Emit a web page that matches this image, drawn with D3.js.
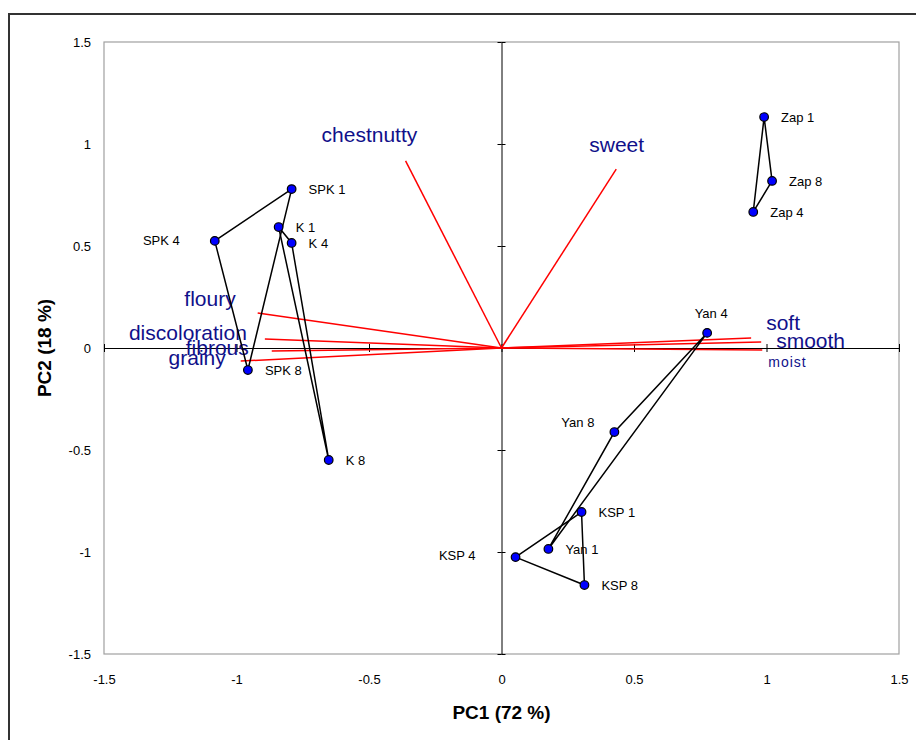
<!DOCTYPE html>
<html>
<head>
<meta charset="utf-8">
<script src="https://cdn.jsdelivr.net/npm/d3@7"></script>
<style>
  html, body { margin: 0; padding: 0; background: #fff; }
  svg { display: block; }
</style>
</head>
<body>
<svg id="chart" width="916" height="740"></svg>
<script>
// ---------- DATA ----------
const sampleNames = ["Zap 1","Zap 8","Zap 4","Yan 4","Yan 8","Yan 1","KSP 1","KSP 4","KSP 8","SPK 1","SPK 4","SPK 8","K 1","K 4","K 8"];
const samplePC1   = [0.991, 1.021, 0.950, 0.776, 0.426, 0.177, 0.302, 0.053, 0.313, -0.792, -1.082, -0.957, -0.841, -0.792, -0.652];
const samplePC2   = [1.132, 0.819, 0.667, 0.074, -0.412, -0.985, -0.804, -1.025, -1.162, 0.779, 0.525, -0.108, 0.593, 0.515, -0.549];

// polygons joining samples of the same cultivar
const groups = [
  ["Zap 1","Zap 8","Zap 4"],
  ["Yan 4","Yan 8","Yan 1"],
  ["KSP 1","KSP 4","KSP 8"],
  ["SPK 1","SPK 4","SPK 8"],
  ["K 1","K 4","K 8"]
];

const attrNames = ["chestnutty","sweet","floury","discoloration","fibrous","grainy","soft","smooth","moist"];
const attrPC1   = [-0.362, 0.433, -0.920, -0.893, -0.867, -0.984, 0.942, 0.980, 0.984];
const attrPC2   = [0.917, 0.877, 0.172, 0.044, -0.015, -0.064, 0.049, 0.029, -0.010];

const tickValues = [-1.5, -1, -0.5, 0, 0.5, 1, 1.5];
const xTitle = "PC1 (72 %)";
const yTitle = "PC2 (18 %)";

// ---------- LAYOUT ----------
const svg = d3.select("#chart");
const plot = { left: 104, right: 899, top: 42, bottom: 654 };
const x = d3.scaleLinear().domain([-1.5, 1.5]).range([plot.left, plot.right]);
const y = d3.scaleLinear().domain([-1.5, 1.5]).range([plot.bottom, plot.top]);
const tickFont = "'Liberation Sans Narrow', 'Liberation Sans', Arial, sans-serif";
const font = "'Liberation Sans', Arial, sans-serif";

// outer frame (only top and left visible)
svg.append("path")
  .attr("d", "M9,740 L9,14 L916,14")
  .attr("fill", "none").attr("stroke", "#333").attr("stroke-width", 2);

// plot area border
svg.append("rect")
  .attr("x", plot.left).attr("y", plot.top)
  .attr("width", plot.right - plot.left).attr("height", plot.bottom - plot.top)
  .attr("fill", "none").attr("stroke", "#a0a0a0").attr("stroke-width", 1.2);

// tick labels via axes (plain hyphen minus, as in the original)
const fmt = d => String(d);
const xAxisLbl = svg.append("g").attr("transform", `translate(0,${plot.bottom})`)
  .call(d3.axisBottom(x).tickValues(tickValues).tickSize(0).tickPadding(21).tickFormat(fmt));
const yAxisLbl = svg.append("g").attr("transform", `translate(${plot.left},0)`)
  .call(d3.axisLeft(y).tickValues(tickValues).tickSize(0).tickPadding(13).tickFormat(fmt));
[xAxisLbl, yAxisLbl].forEach(g => {
  g.select(".domain").remove();
  g.selectAll("text").attr("font-family", tickFont).attr("font-size", 13).attr("fill", "#000");
});

// zero axes with crossing ticks
function zeroAxis(axisA, axisB, transform) {
  const gA = svg.append("g").attr("transform", transform).call(axisA);
  const gB = svg.append("g").attr("transform", transform).call(axisB);
  [gA, gB].forEach(g => {
    g.selectAll("text").remove();
    g.select(".domain").attr("stroke", "#000").attr("stroke-width", 1);
    g.selectAll(".tick line").attr("stroke", "#000");
  });
  gB.select(".domain").remove();
}
zeroAxis(
  d3.axisBottom(x).tickValues(tickValues).tickSizeInner(4).tickSizeOuter(0),
  d3.axisTop(x).tickValues(tickValues).tickSizeInner(4).tickSizeOuter(0),
  `translate(0,${y(0)})`);
zeroAxis(
  d3.axisLeft(y).tickValues(tickValues).tickSizeInner(4).tickSizeOuter(0),
  d3.axisRight(y).tickValues(tickValues).tickSizeInner(4).tickSizeOuter(0),
  `translate(${x(0)},0)`);

// attribute loading vectors
const attrs = attrNames.map((n, i) => ({ name: n, pc1: attrPC1[i], pc2: attrPC2[i] }));
svg.append("g").selectAll("line").data(attrs).join("line")
  .attr("x1", x(0)).attr("y1", y(0))
  .attr("x2", d => x(d.pc1)).attr("y2", d => y(d.pc2))
  .attr("stroke", "#ff0000").attr("stroke-width", 1.5);

// attribute label placement (pixel offsets from the vector tip)
const attrLabelPlace = {
  chestnutty:    { dx: -84, dy: -19, anchor: "start", size: 21 },
  sweet:         { dx: -27, dy: -17, anchor: "start", size: 21 },
  floury:        { dx: -22, dy: -7,  anchor: "end",   size: 21 },
  discoloration: { dx: -18, dy: 1,   anchor: "end",   size: 21 },
  fibrous:       { dx: -23, dy: 4,   anchor: "end",   size: 21 },
  grainy:        { dx: -15, dy: 4,   anchor: "end",   size: 21 },
  soft:          { dx: 15,  dy: -8,  anchor: "start", size: 21 },
  smooth:        { dx: 15,  dy: 6,   anchor: "start", size: 21 },
  moist:         { dx: 6,   dy: 17,  anchor: "start", size: 14 }
};
svg.append("g").selectAll("text").data(attrs).join("text")
  .attr("x", d => x(d.pc1) + attrLabelPlace[d.name].dx)
  .attr("y", d => y(d.pc2) + attrLabelPlace[d.name].dy)
  .attr("text-anchor", d => attrLabelPlace[d.name].anchor)
  .attr("font-family", font)
  .attr("font-size", d => attrLabelPlace[d.name].size)
  .attr("letter-spacing", d => d.name === "moist" ? 1 : 0)
  .attr("fill", "#10108a")
  .text(d => d.name);

// sample polygons
const samples = sampleNames.map((n, i) => ({ name: n, pc1: samplePC1[i], pc2: samplePC2[i] }));
const byName = new Map(samples.map(s => [s.name, s]));
svg.append("g").selectAll("path").data(groups).join("path")
  .attr("d", g => d3.line().x(s => x(s.pc1)).y(s => y(s.pc2))(g.map(n => byName.get(n))) + "Z")
  .attr("fill", "none").attr("stroke", "#000").attr("stroke-width", 1.5);

// sample points
svg.append("g").selectAll("circle").data(samples).join("circle")
  .attr("cx", d => x(d.pc1)).attr("cy", d => y(d.pc2)).attr("r", 4.3)
  .attr("fill", "#0000ff").attr("stroke", "#000").attr("stroke-width", 1.2);

// sample label placement
const sampleLabelPlace = {
  "Yan 4": { dx: 4, dy: -20, anchor: "middle" },
  "Yan 8": { dx: -20, dy: -10, anchor: "end" },
  "KSP 4": { dx: -40, dy: -2, anchor: "end" },
  "SPK 4": { dx: -35, dy: -1, anchor: "end" }
};
svg.append("g").selectAll("text").data(samples).join("text")
  .attr("x", d => x(d.pc1) + (sampleLabelPlace[d.name] ? sampleLabelPlace[d.name].dx : 17))
  .attr("y", d => y(d.pc2) + (sampleLabelPlace[d.name] ? sampleLabelPlace[d.name].dy : 0) + 5)
  .attr("text-anchor", d => sampleLabelPlace[d.name] ? sampleLabelPlace[d.name].anchor : "start")
  .attr("font-family", font).attr("font-size", 13).attr("fill", "#000")
  .text(d => d.name);

// axis titles
svg.append("text")
  .attr("x", (plot.left + plot.right) / 2).attr("y", 719)
  .attr("text-anchor", "middle")
  .attr("font-family", font).attr("font-weight", "bold").attr("font-size", 19)
  .text(xTitle);
svg.append("text")
  .attr("transform", `translate(51,${(plot.top + plot.bottom) / 2}) rotate(-90)`)
  .attr("text-anchor", "middle")
  .attr("font-family", font).attr("font-weight", "bold").attr("font-size", 19)
  .text(yTitle);
</script>
</body>
</html>
